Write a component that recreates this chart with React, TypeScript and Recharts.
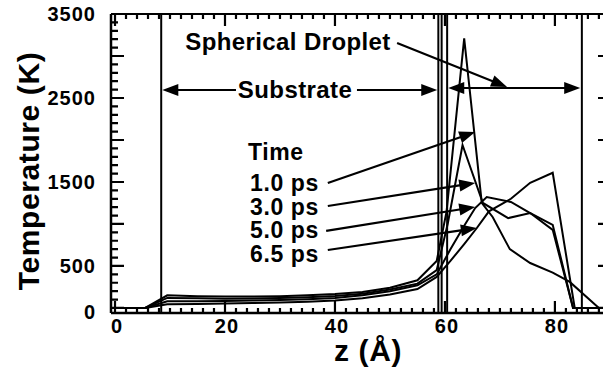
import React from "react";
import { LineChart, Line, XAxis, YAxis, ReferenceLine } from "recharts";

// temperature profiles T(z) at four times
const z10 = [0, 5.5, 9.5, 15, 20, 25, 30, 35, 40, 45, 50, 55, 58.5, 60.3, 63.5, 66.7, 68.7, 71.8, 75.5, 79.6, 82.7, 88, 90];
const t10 = [0, 0, 150, 140, 135, 135, 140, 150, 165, 190, 240, 330, 560, 1150, 3210, 1250, 1080, 700, 535, 420, 310, 0, 0];

const z30 = [0, 5.5, 9.5, 15, 20, 25, 30, 35, 40, 45, 50, 55, 58.5, 60.5, 63.2, 66.9, 71.5, 75.5, 79.6, 83.3, 90];
const t30 = [0, 0, 120, 115, 110, 112, 118, 128, 142, 170, 220, 290, 450, 1000, 1940, 1250, 1070, 1130, 990, 0, 0];

const z50 = [0, 5.5, 9.5, 15, 20, 25, 30, 35, 40, 45, 50, 55, 58.5, 61, 63.5, 65.5, 67.6, 72, 75.5, 79.6, 83.3, 90];
const t50 = [0, 0, 80, 80, 82, 88, 95, 105, 120, 150, 200, 270, 400, 700, 980, 1190, 1320, 1262, 1130, 930, 0, 0];

const z65 = [0, 5.5, 9.5, 15, 20, 25, 30, 35, 40, 45, 50, 55, 58.5, 61, 63.5, 65.8, 68, 72, 75.5, 79.6, 83.6, 90];
const t65 = [0, 0, 45, 48, 52, 58, 65, 75, 90, 115, 160, 225, 370, 560, 760, 952, 1150, 1300, 1490, 1610, 0, 0];

const xTicks = Array.from({ length: 46 }, (_, i) => i * 2);
const xLabels = [0, 20, 40, 60, 80];
const yTicks = Array.from({ length: 36 }, (_, i) => i * 100);
const yLabels = [0, 500, 1500, 2500, 3500];

// boundaries of substrate / droplet
const boundaries = [8.4, 58.8, 59.4, 60.4, 84.9];

// annotation arrows: [from, to] in data units
const arrows: { from: [number, number]; to: [number, number]; both?: boolean }[] = [
  { from: [51.3, 3155], to: [71.3, 2631] },
  { from: [60.6, 2619], to: [84.6, 2619], both: true },
  { from: [22, 2595], to: [8.6, 2595] },
  { from: [44, 2595], to: [58.6, 2595] },
  { from: [38.7, 1488], to: [65.5, 2095] },
  { from: [38.7, 1214], to: [65.5, 1488] },
  { from: [38.4, 917], to: [65.5, 1202] },
  { from: [38.7, 690], to: [65.8, 952] },
];

const toRows = (zs: number[], ts: number[]) => zs.map((z, i) => ({ z, t: ts[i] }));
const series = [toRows(z10, t10), toRows(z30, t30), toRows(z50, t50), toRows(z65, t65)];

const X_DOM: [number, number] = [-0.73, 90.2];
const Y_DOM: [number, number] = [-60, 3500];
const PLOT_L = 111;
const PLOT_T = 14;
const PLOT_W = 500;
const PLOT_H = 299;
const pxX = PLOT_W / (X_DOM[1] - X_DOM[0]);
const pxY = PLOT_H / (Y_DOM[1] - Y_DOM[0]);
const sx = (v: number) => PLOT_L + (v - X_DOM[0]) * pxX;
const sy = (v: number) => PLOT_T + PLOT_H - (v - Y_DOM[0]) * pxY;

const FONT = '"Liberation Sans", Arial, Helvetica, sans-serif';

const labelStyle = {
  fontFamily: FONT,
  fontWeight: 700,
  fontSize: 20,
  letterSpacing: 1,
  fill: "#000",
};

const BottomLabel = (p: any) => {
  const v = p.payload.value;
  if (!xLabels.includes(v)) return <g />;
  return (
    <text x={p.x + 2} y={p.y + 13} textAnchor="middle" dominantBaseline="central" style={labelStyle}>
      {v}
    </text>
  );
};

const LeftLabel = (p: any) => {
  const v = p.payload.value;
  if (!yLabels.includes(v)) return <g />;
  return (
    <text x={p.x - 15} y={p.y + (v === 0 ? 4 : 0)} textAnchor="end" dominantBaseline="central" style={labelStyle}>
      {v}
    </text>
  );
};

const arrowShape = (both?: boolean) => (p: any) => {
  const { x1, y1, x2, y2 } = p;
  const len = Math.hypot(x2 - x1, y2 - y1) || 1;
  const ux = (x2 - x1) / len;
  const uy = (y2 - y1) / len;
  const L = 16;
  const W = 6;
  const head = (tx: number, ty: number, dx: number, dy: number) =>
    `${tx},${ty} ${tx - dx * L - dy * W},${ty - dy * L + dx * W} ${tx - dx * L + dy * W},${ty - dy * L - dx * W}`;
  const ax = both ? x1 + ux * L * 0.8 : x1;
  const ay = both ? y1 + uy * L * 0.8 : y1;
  return (
    <g>
      <line x1={ax} y1={ay} x2={x2 - ux * L * 0.8} y2={y2 - uy * L * 0.8} stroke="#000" strokeWidth={2.2} />
      <polygon points={head(x2, y2, ux, uy)} fill="#000" />
      {both && <polygon points={head(x1, y1, -ux, -uy)} fill="#000" />}
    </g>
  );
};

// frame and inward ticks as one path string
const framePath = () => {
  const right = sx(X_DOM[1]);
  const bottom = sy(Y_DOM[0]);
  let d = `M${PLOT_L},${PLOT_T}H${right}V${bottom}`;
  yTicks.forEach((v) => {
    const len = v % 500 === 0 ? 13 : 7;
    const y = sy(v).toFixed(2);
    d += `M${PLOT_L},${y}h${len}M${right},${y}h${-len}`;
  });
  xTicks.forEach((v) => {
    const len = v % 20 === 0 ? 12 : 5;
    const x = sx(v).toFixed(2);
    d += `M${x},${bottom}v${-len}M${x},${PLOT_T}v${len}`;
  });
  return d;
};

const text = (s: string, left: number, top: number, size: number, center = true, extra: any = {}) => (
  <div
    style={{
      position: "absolute",
      left,
      top,
      transform: center ? "translate(-50%, -50%)" : "translateY(-50%)",
      fontFamily: FONT,
      fontWeight: 700,
      fontSize: size,
      lineHeight: 1,
      whiteSpace: "nowrap",
      color: "#000",
      letterSpacing: 0.6,
      ...extra,
    }}
  >
    {s}
  </div>
);

export default function App() {
  return (
    <div style={{ position: "absolute", left: 0, top: 0, width: 603, height: 370, overflow: "hidden", background: "#fff" }}>
      <LineChart width={620} height={370} margin={{ top: PLOT_T, right: 620 - PLOT_L - PLOT_W, bottom: 0, left: 0 }}>
        <XAxis
          dataKey="z"
          type="number"
          domain={X_DOM}
          allowDataOverflow
          ticks={xTicks}
          interval={0}
          height={370 - PLOT_T - PLOT_H}
          tickSize={0}
          tickMargin={0}
          tickLine={false}
          axisLine={{ stroke: "#000", strokeWidth: 2.5 }}
          tick={BottomLabel}
        />
        <YAxis
          type="number"
          domain={Y_DOM}
          allowDataOverflow
          ticks={yTicks}
          interval={0}
          width={PLOT_L}
          tickSize={0}
          tickMargin={0}
          tickLine={false}
          axisLine={{ stroke: "#000", strokeWidth: 2.5 }}
          tick={LeftLabel}
        />
        {boundaries.map((b) => (
          <ReferenceLine key={b} x={b} stroke="#000" strokeWidth={2} />
        ))}
        {series.map((d, i) => (
          <Line
            key={i}
            data={d}
            dataKey="t"
            type="linear"
            stroke="#000"
            strokeWidth={2}
            dot={false}
            isAnimationActive={false}
          />
        ))}
        {arrows.map((a, i) => (
          <ReferenceLine
            key={"a" + i}
            segment={[
              { x: a.from[0], y: a.from[1] },
              { x: a.to[0], y: a.to[1] },
            ]}
            ifOverflow="visible"
            shape={arrowShape(a.both)}
          />
        ))}
      </LineChart>
      <svg width={603} height={370} style={{ position: "absolute", left: 0, top: 0, zIndex: 5 }}>
        <path d={framePath()} fill="none" stroke="#000" strokeWidth={2.2} />
      </svg>
      {text("Spherical Droplet", 288, 42, 24, true, { letterSpacing: 0.4 })}
      {text("Substrate", 295, 90, 24, true, { letterSpacing: 0.4 })}
      {text("Time", 248, 152, 23, false, { lineHeight: "20px" })}
      {text("1.0 ps", 250, 183, 23, false, { lineHeight: "20px" })}
      {text("3.0 ps", 250, 207, 23, false, { lineHeight: "20px" })}
      {text("5.0 ps", 250, 230, 23, false, { lineHeight: "20px" })}
      {text("6.5 ps", 250, 254, 23, false, { lineHeight: "20px" })}
      {text("z (Å)", 368, 351, 30)}
      {text("Temperature (K)", 29, 171, 30, true, { transform: "translate(-50%, -50%) rotate(-90deg)" })}
    </div>
  );
}
